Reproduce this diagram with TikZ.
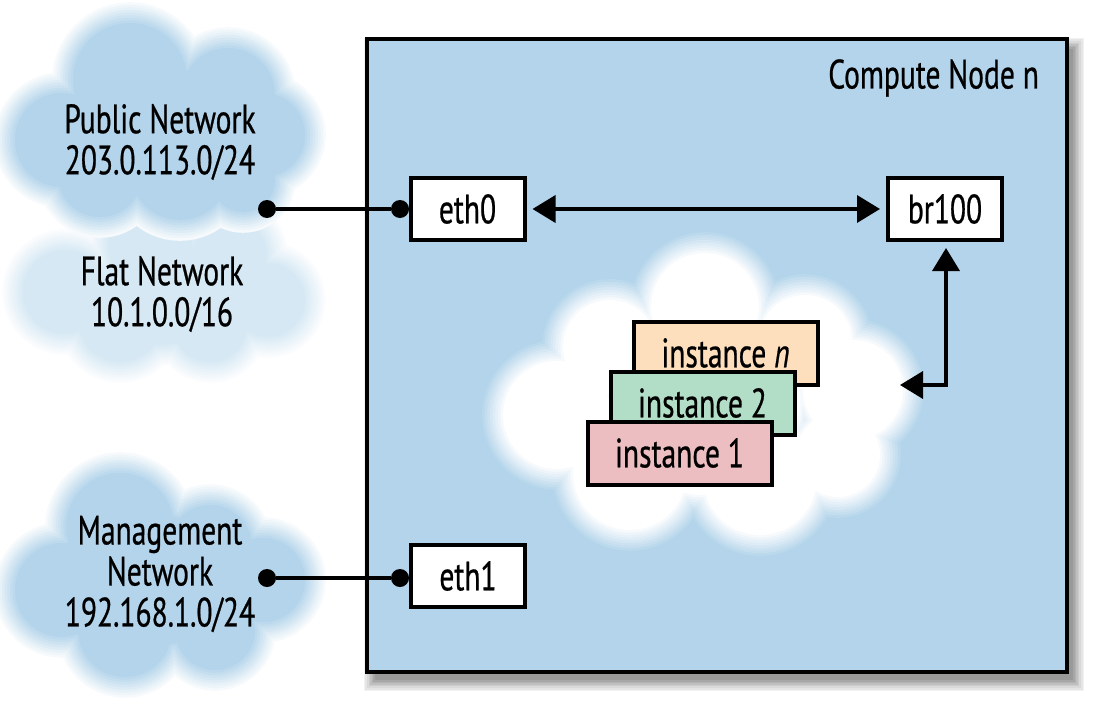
\documentclass[tikz,border=0pt]{standalone}
\usepackage{fontspec}
\setmainfont{PT Sans}[FakeStretch=0.72,FakeBold=0.6]
\usetikzlibrary{arrows.meta}
\definecolor{boxblue}{RGB}{179,212,234}
\definecolor{flatblue}{RGB}{214,232,244}
\definecolor{peach}{RGB}{253,223,190}
\definecolor{mint}{RGB}{178,222,200}
\definecolor{rose}{RGB}{236,190,193}
\newcommand{\fuzzycloud}[3]{%
  \foreach \k in {1,...,9}{%
    \pgfmathtruncatemacro{\pc}{100*\k/9}%
    \pgfmathsetmacro{\grow}{(9-\k)*2.6-10}%
    \fill[color=#1!\pc!#2] \foreach \cx/\cy/\cr in {#3}{ (\cx,\cy) circle[radius={(\cr+\grow)*0.5pt}] };
  }%
}
\tikzset{
  lbl/.style={font=\fontsize{20.5}{20.5}\selectfont, align=center},
  port/.style={draw=black, line width=2pt, fill=white, minimum width=57pt, minimum height=31pt, inner sep=0pt, font=\fontsize{20.5}{20.5}\selectfont},
  inst/.style={draw=black, line width=2pt, minimum width=92pt, minimum height=31.5pt, inner sep=0pt, font=\fontsize{20.5}{20.5}\selectfont},
  conn/.style={line width=1.8pt},
  dot/.style={circle, fill=black, inner sep=0pt, minimum size=9pt}
}
\begin{document}
\begin{tikzpicture}[x=0.5pt,y=-0.5pt]
\useasboundingbox (0,0) rectangle (1095,700);
% clouds outside
\fuzzycloud{flatblue}{white}{150/245/52, 230/255/47, 268/300/47, 65/292/52, 120/320/52, 210/325/47, 160/290/65}
\fuzzycloud{boxblue}{white}{130/80/67, 228/95/57, 263/135/52, 62/140/57, 100/175/52, 180/170/60, 243/180/42, 160/130/75}
\fuzzycloud{boxblue}{white}{120/527/64, 210/547/52, 263/580/52, 62/590/57, 125/630/57, 215/630/50, 160/580/75}
% shadow
\foreach \k in {1,...,8}{%
  \pgfmathtruncatemacro{\pc}{5*\k}%
  \pgfmathsetmacro{\g}{(8-\k)*1.6}%
  \fill[black!\pc!white] (375-\g,49-\g) rectangle (1073+\g,680+\g);
}
% compute node
\node[draw=black, line width=2pt, fill=boxblue, minimum width=350pt, minimum height=316.5pt, inner sep=0pt, anchor=north west] (cn) at (365,37) {};
\node[lbl, anchor=east] (cnl) at (1046,78) {Compute Node n};
% white cloud
\fuzzycloud{white}{boxblue}{705/307/64, 610/347/57, 805/342/57, 557/415/64, 853/390/60, 630/473/67, 760/478/67, 838/455/52, 705/400/105}
% labels of clouds
\node[lbl] (pub) at (160,142) {Public Network\\203.0.113.0/24};
\node[lbl] (flat) at (162,294) {Flat Network\\10.1.0.0/16};
\node[lbl] (mgmt) at (160,574) {Management\\Network\\192.168.1.0/24};
% ports
\node[dot] (d1) at (267,209) {};
\node[dot] (d2) at (400,209) {};
\node[dot] (d3) at (267,578) {};
\node[dot] (d4) at (400,578) {};
\draw[conn] (d1) -- (d2);
\draw[conn] (d3) -- (d4);
\node[port] (eth0) at (467.5,209) {eth0};
\node[port] (br) at (945,209) {br100};
\node[port] (eth1) at (468,576) {eth1};
% instances
\node[inst, fill=peach] (in) at (725.5,353) {instance \textit{n}};
\node[inst, fill=mint] (i2) at (702.5,403) {instance 2};
\node[inst, fill=rose] (i1) at (679.5,453) {instance 1};
% arrows
\coordinate (bend) at (946,385);
\coordinate (tipend) at (900,385);
\draw[conn, {Triangle[length=11.5pt,width=13.5pt]}-{Triangle[length=11.5pt,width=13.5pt]}, shorten <=3pt, shorten >=3pt] (eth0.east) -- (br.west);
\draw[conn, {Triangle[length=11.5pt,width=13.5pt]}-{Triangle[length=11.5pt,width=13.5pt]}, line join=miter] ([yshift=-3pt]br.south -| bend) -- (bend) -- (tipend);
\end{tikzpicture}
\end{document}
